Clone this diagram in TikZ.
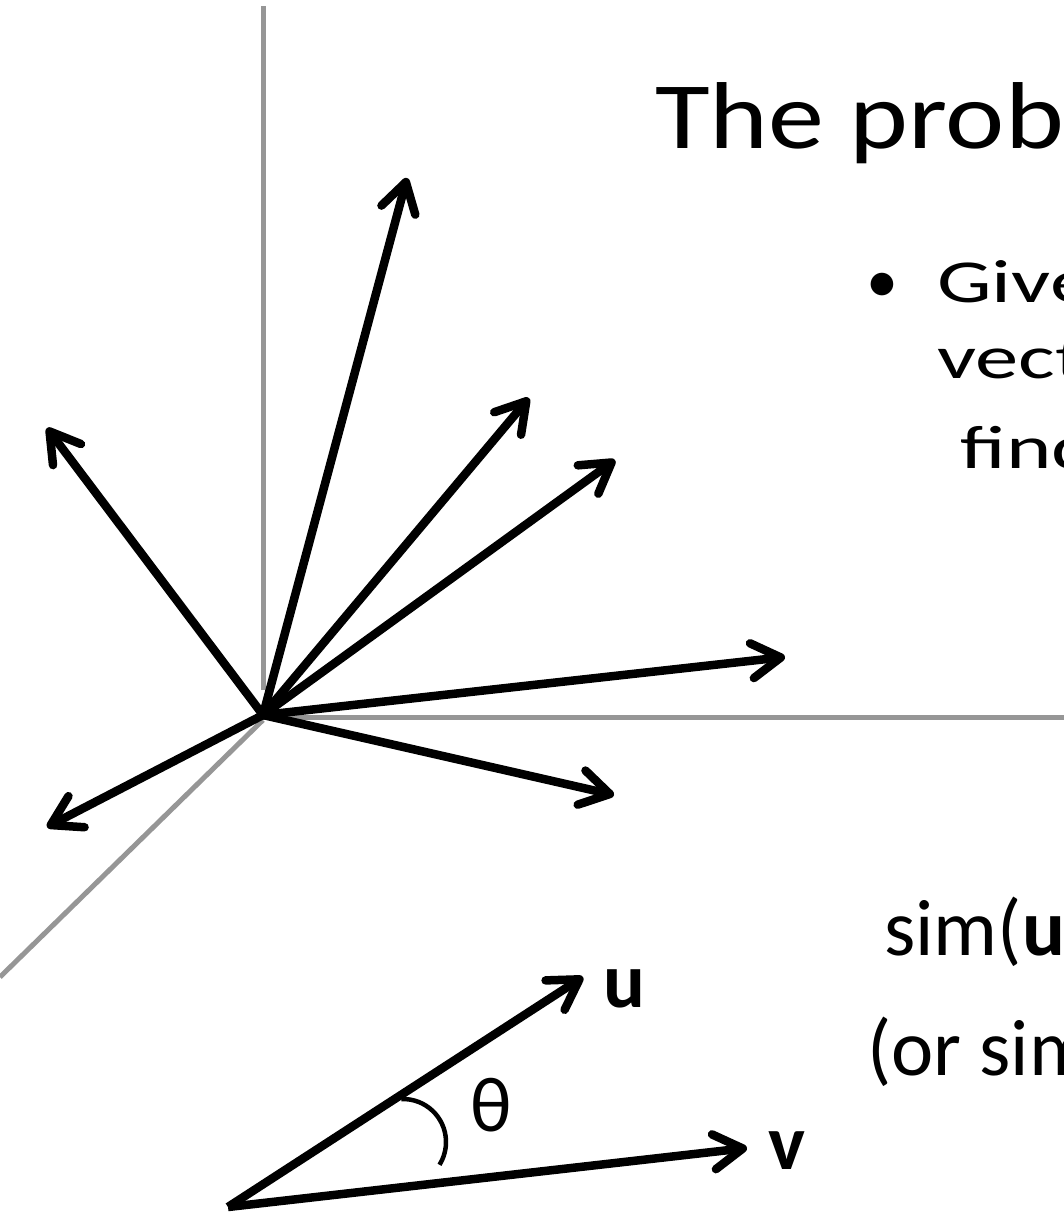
\documentclass[tikz,border=0pt]{standalone}
\usepackage{fontspec}
\setmainfont{Carlito}
\newfontfamily\titlefont[FakeStretch=1.18]{Carlito}
\newfontfamily\bodyfont[FakeStretch=1.42]{Carlito}
\usetikzlibrary{arrows.meta}
\definecolor{axisgray}{RGB}{150,150,150}
\begin{document}
\begin{tikzpicture}[x=1pt,y=-1pt,
  axis/.style={draw=axisgray,line width=5pt},
  vec/.style={draw=black,line width=8.5pt,-{Straight Barb[length=29pt,width=35pt,round]}},
  titletxt/.style={anchor=base west,inner sep=0pt,font=\titlefont\fontsize{95}{114}\selectfont},
  bodytxt/.style={anchor=base west,inner sep=0pt,font=\bodyfont\fontsize{61}{73}\selectfont},
  bullettxt/.style={anchor=base west,inner sep=0pt,font=\fontsize{64}{76}\selectfont},
  simtxt/.style={anchor=base west,inner sep=0pt,font=\fontsize{80}{96}\selectfont},
  lbl/.style={anchor=base west,inner sep=0pt,font=\fontsize{78}{94}\selectfont},
]
\useasboundingbox (0,0) rectangle (1064,1213);
\clip (0,0) rectangle (1064,1213);
% axes
\coordinate (O) at (263,715);
\coordinate (ytop) at (263,6);
\coordinate (ybot) at (263,690);
\coordinate (xs) at (263,717);
\coordinate (xe) at (1070,717);
\coordinate (zs) at (263,720);
\coordinate (ze) at (0,977);
\draw[axis] (ybot) -- (ytop);
\draw[axis] (xs) -- (xe);
\draw[axis] (zs) -- (ze);
% vectors
\coordinate (t1) at (407,178);
\coordinate (t2) at (529,398);
\coordinate (t3) at (615,460);
\coordinate (t4) at (785,657);
\coordinate (t5) at (614,795);
\coordinate (t6) at (47,827);
\coordinate (t7) at (47,428);
\foreach \t in {t1,t2,t3,t4,t5,t6,t7}{\draw[vec] (O) -- (\t);}
% u, v
\coordinate (P) at (228,1207);
\coordinate (ut) at (583,977);
\coordinate (vt) at (747,1148);
\draw[vec] (P) -- (ut);
\draw[vec] (P) -- (vt);
\coordinate (thc) at (403,1142);
\draw[line width=4.5pt] (thc) ++(-92:43) arc[start angle=-92,end angle=32,radius=43];
\node[lbl] (theta) at (470,1131) {θ};
\node[lbl] (ulbl) at (603,1007) {\textbf{u}};
\node[lbl] (vlbl) at (768,1169) {\textbf{v}};
% texts
\node[titletxt] (title) at (655,148) {The prob};
\node[bullettxt] (bullet) at (866,302) {•};
\node[bodytxt] (give) at (937,302) {Give};
\node[bodytxt] (vect) at (937,378) {vect};
\node[bodytxt] (find) at (960,468) {find};
\node[simtxt] (sim) at (884,955) {sim(\textbf{u}};
\node[simtxt] (orsim) at (867,1075) {(or sim};
\end{tikzpicture}
\end{document}
